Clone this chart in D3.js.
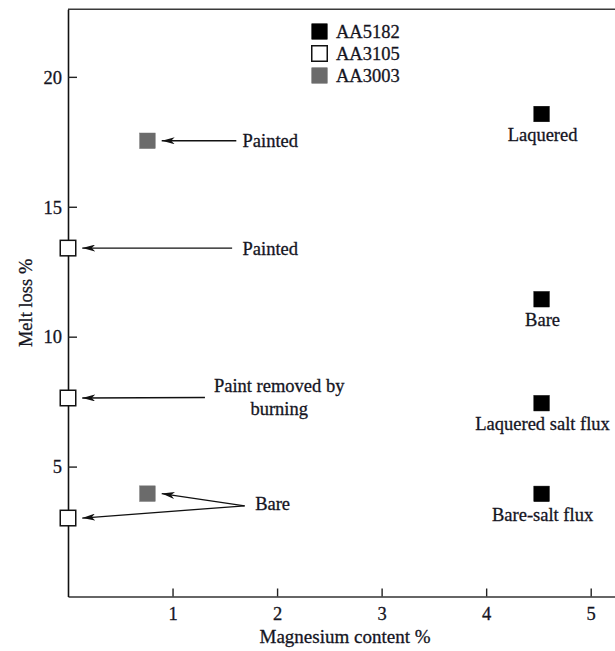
<!DOCTYPE html>
<html>
<head>
<meta charset="utf-8">
<script src="https://cdn.jsdelivr.net/npm/d3@7"></script>
<style>
  html, body { margin: 0; padding: 0; background: #fff; }
  svg { display: block; }
  text { font-family: "Liberation Serif", "Times New Roman", serif; fill: #15151f; stroke: #15151f; stroke-width: 0.3px; }
</style>
</head>
<body>
<svg id="chart" width="615" height="651"></svg>
<script>
// Melt loss of aluminium alloys versus magnesium content
const alloys = ["AA5182", "AA3105", "AA3003"];

const aa5182Mg = [4.53, 4.53, 4.53, 4.53];
const aa5182Loss = [18.57, 11.44, 7.44, 3.95];
const aa5182Labels = ["Laquered", "Bare", "Laquered salt flux", "Bare-salt flux"];

const aa3105Mg = [0, 0, 0];
const aa3105Loss = [13.41, 7.64, 3.02];

const aa3003Mg = [0.76, 0.76];
const aa3003Loss = [17.54, 3.96];

const xTicks = [1, 2, 3, 4, 5];
const yTicks = [5, 10, 15, 20];

const xTitle = "Magnesium content %";
const yTitle = "Melt loss %";

// Callouts for the alloys at low magnesium: text lines, anchor (mg, loss), line start and targets
const callouts = [
  { lines: ["Painted"], anchor: "start", at: [1.67, 17.3], from: [1.61, 17.54], targets: [["AA3003", 0]] },
  { lines: ["Painted"], anchor: "start", at: [1.67, 13.15], from: [1.57, 13.41], targets: [["AA3105", 0]] },
  { lines: ["Paint removed by", "burning"], anchor: "middle", at: [2.02, 7.88], from: [1.31, 7.66], targets: [["AA3105", 1]] },
  { lines: ["Bare"], anchor: "start", at: [1.79, 3.33], from: [1.69, 3.49], targets: [["AA3003", 1], ["AA3105", 2]] }
];

const svg = d3.select("#chart");
const plotLeft = 68, plotBottom = 596.5, plotTop = 9.3;
const pxPerMg = 104.54;

const x = d3.scaleLinear().domain([0, 5.3]).range([plotLeft, plotLeft + 5.3 * pxPerMg]);
const y = d3.scaleLinear().domain([0, 22.6]).range([plotBottom, plotTop]);

const fontSize = 18.5;

// Frame: top rule, left and bottom axes
svg.append("line")
  .attr("x1", x(0)).attr("x2", x(5.3)).attr("y1", y(22.6)).attr("y2", y(22.6))
  .attr("stroke", "#3a3a3a").attr("stroke-width", 1.6);

const xAxis = d3.axisBottom(x).tickValues(xTicks).tickSize(0).tickPadding(0).tickFormat(d3.format("d"));
const gx = svg.append("g").attr("transform", `translate(0,${plotBottom})`).call(xAxis);
gx.select(".domain").attr("stroke", "#333").attr("stroke-width", 1.6);
gx.selectAll(".tick text").remove();
gx.selectAll(".tick line").attr("y1", 0).attr("y2", -8).attr("stroke", "#222").attr("stroke-width", 1.4);
gx.selectAll(".tick").append("text")
  .attr("y", 23).attr("text-anchor", "middle")
  .style("font-size", fontSize + "px")
  .text(d => d);

const yAxis = d3.axisLeft(y).tickValues(yTicks).tickSize(0).tickPadding(0);
const gy = svg.append("g").attr("transform", `translate(${plotLeft},0)`).call(yAxis);
gy.select(".domain").attr("stroke", "#111").attr("stroke-width", 1.6);
gy.selectAll(".tick text").remove();
gy.selectAll(".tick line").attr("x1", 0).attr("x2", 9).attr("stroke", "#222").attr("stroke-width", 1.4);
gy.selectAll(".tick").append("text")
  .attr("x", -6).attr("dy", "0.34em").attr("text-anchor", "end")
  .style("font-size", fontSize + "px")
  .text(d => d);

svg.append("text")
  .attr("x", x(2.65)).attr("y", 643).attr("text-anchor", "middle")
  .style("font-size", "19px").text(xTitle);

svg.append("text")
  .attr("transform", `translate(32,${y(11.3)}) rotate(-90)`)
  .attr("text-anchor", "middle")
  .style("font-size", fontSize + "px").text(yTitle);

// Marker styles per alloy
const style = {
  AA5182: { fill: "#000", stroke: "#000" },
  AA3105: { fill: "#fff", stroke: "#111" },
  AA3003: { fill: "#6b6b6b", stroke: "#6b6b6b" }
};
const series = {
  AA5182: d3.zip(aa5182Mg, aa5182Loss),
  AA3105: d3.zip(aa3105Mg, aa3105Loss),
  AA3003: d3.zip(aa3003Mg, aa3003Loss)
};
const size = 15.5;

// Arrowhead marker, tip at the end of the line
const defs = svg.append("defs");
defs.append("marker")
  .attr("id", "head").attr("viewBox", "0 0 13 7").attr("refX", 13).attr("refY", 3.5)
  .attr("markerWidth", 13).attr("markerHeight", 7).attr("markerUnits", "userSpaceOnUse")
  .attr("orient", "auto")
  .append("path").attr("d", "M13,3.5 L0,0 L3.5,3.5 L0,7 Z").attr("fill", "#111");

// Callout lines and labels
callouts.forEach(c => {
  c.targets.forEach(([name, i]) => {
    const p = series[name][i];
    svg.append("line")
      .attr("x1", x(c.from[0])).attr("y1", y(c.from[1]))
      .attr("x2", x(p[0]) + size / 2 + 6.5).attr("y2", y(p[1]))
      .attr("stroke", "#111").attr("stroke-width", 1.3)
      .attr("marker-end", "url(#head)");
  });
  c.lines.forEach((t, k) => {
    svg.append("text")
      .attr("x", x(c.at[0]))
      .attr("y", y(c.at[1]) + k * 23)
      .attr("text-anchor", c.anchor)
      .style("font-size", fontSize + "px").text(t);
  });
});

// Markers
alloys.forEach(name => {
  svg.append("g").selectAll("rect")
    .data(series[name]).join("rect")
    .attr("x", d => x(d[0]) - size / 2).attr("y", d => y(d[1]) - size / 2)
    .attr("width", size).attr("height", size)
    .attr("fill", style[name].fill).attr("stroke", style[name].stroke)
    .attr("stroke-width", name === "AA3105" ? 1.5 : 0.5);
});

// Labels under the AA5182 markers
svg.append("g").selectAll("text")
  .data(d3.zip(aa5182Mg, aa5182Loss, aa5182Labels)).join("text")
  .attr("x", d => x(d[0]) + 1).attr("y", d => y(d[1]) + 27)
  .attr("text-anchor", "middle")
  .style("font-size", fontSize + "px")
  .text(d => d[2]);

// Legend
const legend = svg.append("g").attr("transform", "translate(319.5,31.5)");
alloys.forEach((name, i) => {
  const row = legend.append("g").attr("transform", `translate(0,${i * 22})`);
  row.append("rect")
    .attr("x", -size / 2).attr("y", -size / 2).attr("width", size).attr("height", size)
    .attr("fill", style[name].fill).attr("stroke", style[name].stroke)
    .attr("stroke-width", name === "AA3105" ? 1.5 : 0.5);
  row.append("text")
    .attr("x", 16.5).attr("y", 6)
    .style("font-size", fontSize + "px").text(name);
});
</script>
</body>
</html>
